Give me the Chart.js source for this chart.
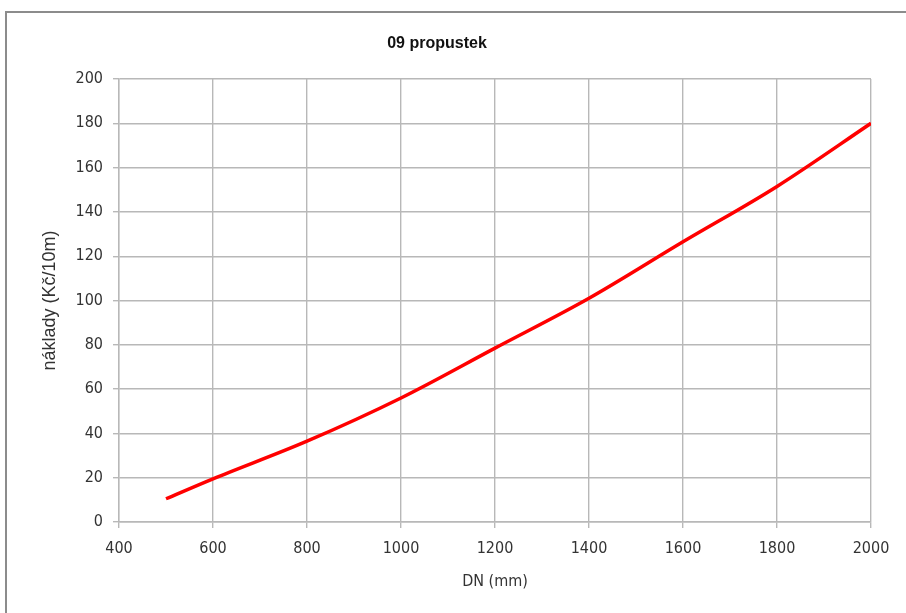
<!DOCTYPE html>
<html>
<head>
<meta charset="utf-8">
<script src="https://cdn.jsdelivr.net/npm/chart.js@4"></script>
<style>
  html, body { margin: 0; padding: 0; background: #fff; }
  #wrap { position: relative; width: 906px; height: 613px; overflow: hidden; }
  #frame { position: absolute; left: 5px; top: 11px; right: -5px; bottom: -5px; border-left: 2px solid #8c8c8c; border-top: 2px solid #8c8c8c; pointer-events: none; }
</style>
</head>
<body>
<div id="wrap">
  <canvas id="chart" width="906" height="613"></canvas>
  <div id="frame"></div>
</div>
<script>
// data
const dn = [500, 600, 800, 1000, 1200, 1400, 1600, 1800, 2000];
const naklady = [10.5, 19.5, 36.5, 56, 78.5, 101, 126.5, 151.5, 180];
const xTicks = [400, 600, 800, 1000, 1200, 1400, 1600, 1800, 2000];
const yTicks = [0, 20, 40, 60, 80, 100, 120, 140, 160, 180, 200];
const chartTitle = "09 propustek";

const NARROW = "'DejaVu Sans Condensed', 'Liberation Sans', Arial, sans-serif";
const FONT = "'Liberation Sans', Arial, sans-serif";
const GRID = "#b8b8b8";
const TEXT = "#333";

const points = dn.map((x, i) => ({ x, y: naklady[i] }));

// title sits a bit left of the canvas centre in the reference
const titlePlugin = {
  id: "titleText",
  afterDraw(c) {
    const g = c.ctx;
    g.save();
    g.font = "bold 16px " + FONT;
    g.fillStyle = "#111";
    g.textAlign = "center";
    g.textBaseline = "middle";
    g.fillText(chartTitle, 437, 44);
    g.restore();
  }
};

const ctx = document.getElementById("chart");
const chart = new Chart(ctx, {
  type: "line",
  data: {
    datasets: [{
      label: chartTitle,
      data: points,
      borderColor: "#ff0000",
      borderWidth: 3.5,
      pointRadius: 0,
      tension: 0.4,
      cubicInterpolationMode: "monotone",
      fill: false,
    }]
  },
  options: {
    responsive: false,
    animation: false,
    devicePixelRatio: 1,
    layout: { padding: { left: 30, right: 35, top: 79, bottom: 0 } },
    plugins: {
      legend: { display: false },
      tooltip: { enabled: false },
      title: { display: false },
    },
    scales: {
      x: {
        type: "linear",
        min: xTicks[0],
        max: xTicks[xTicks.length - 1],
        afterBuildTicks: (s) => { s.ticks = xTicks.map(v => ({ value: v })); },
        afterFit: (s) => { s.height = 613 - 522; },
        grid: { color: GRID, lineWidth: 1.4, tickLength: 6, drawTicks: true },
        border: { color: GRID, width: 1.4 },
        ticks: { color: TEXT, font: { family: NARROW, size: 16 }, padding: 11, maxRotation: 0, callback: v => String(v) },
        title: {
          display: true,
          text: "DN (mm)",
          color: TEXT,
          font: { family: NARROW, size: 16 },
          padding: { top: 0, bottom: 22 },
        },
      },
      y: {
        min: yTicks[0],
        max: yTicks[yTicks.length - 1],
        afterBuildTicks: (s) => { s.ticks = yTicks.map(v => ({ value: v })); },
        afterFit: (s) => { s.width = 119 - 30; },
        grid: { color: GRID, lineWidth: 1.4, tickLength: 6, drawTicks: true },
        border: { color: GRID, width: 1.4 },
        ticks: { color: TEXT, font: { family: NARROW, size: 16 }, padding: 10, callback: v => String(v) },
        title: {
          display: true,
          text: "náklady (Kč/10m)",
          color: TEXT,
          font: { family: FONT, size: 18 },
          padding: { top: 9, bottom: 0 },
        },
      },
    },
  },
  plugins: [titlePlugin],
});
</script>
</body>
</html>
